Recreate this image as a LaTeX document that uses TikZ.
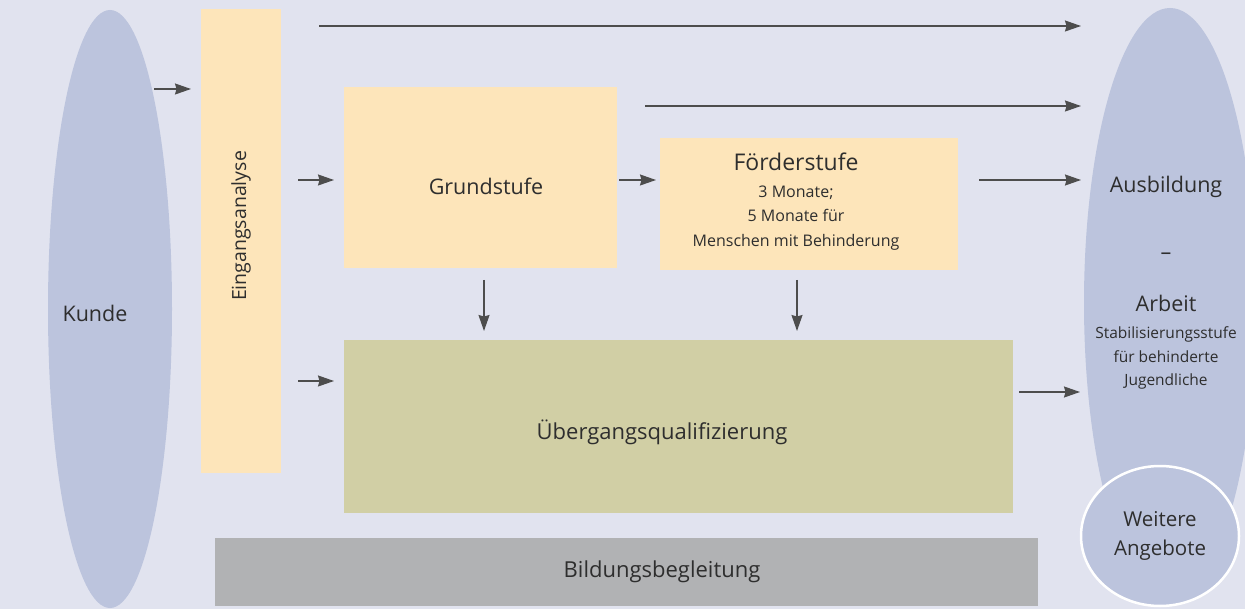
\documentclass[tikz,border=0pt]{standalone}
\usepackage{fontspec}
\setmainfont{Open Sans}
\usetikzlibrary{arrows.meta,calc,shapes.geometric}
\definecolor{bg}{HTML}{E1E3EF}
\definecolor{ell}{HTML}{BCC4DD}
\definecolor{yel}{HTML}{FDE5BA}
\definecolor{oli}{HTML}{D1CFA5}
\definecolor{gry}{HTML}{B1B2B4}
\definecolor{arrc}{HTML}{4D4D4D}
\definecolor{txt}{HTML}{2E2E2E}
\tikzset{
  oval/.style={ellipse, fill=ell, inner sep=0pt},
  box/.style={rectangle, inner sep=0pt, anchor=north west, text=txt},
  lbl/.style={text=txt, inner sep=0pt, align=center},
  arr/.style={draw=arrc, line width=1.3pt, -{Stealth[length=16pt,width=11pt,inset=1.5pt]}},
}
\begin{document}
\begin{tikzpicture}[x=1pt,y=-1pt]
\useasboundingbox (0,0) rectangle (1245,609);
\clip (0,0) rectangle (1245,609);
\fill[bg] (0,0) rectangle (1245,609);

% left ellipse
\node[oval, minimum width=124, minimum height=598] (kunde) at (110,309) {};
\node[lbl, font=\fontsize{21.5}{25}\selectfont] (kundet) at (95,313) {Kunde};

% right ellipse
\node[oval, minimum width=172, minimum height=590] (ziel) at (1170,303) {};
\node[lbl, font=\fontsize{21.5}{25}\selectfont] (ausb) at (1166,187) {Ausbildung};
\node[lbl, font=\fontsize{21.5}{25}\selectfont] (dash) at (1166,256) {–};
\node[lbl, font=\fontsize{21.5}{25}\selectfont] (arbeit) at (1166,303) {Arbeit};
\node[lbl, font=\fontsize{15.5}{23.5}\selectfont] (stab) at (1166,358) {Stabilisierungsstufe\\für behinderte\\Jugendliche};

% circle
\node[ellipse, fill=ell, draw=white, line width=2.5pt, minimum width=158, minimum height=140, inner sep=0pt,
      lbl, font=\fontsize{20.5}{29}\selectfont] (weitere) at (1160,536) {Weitere\\Angebote};

% Eingangsanalyse
\node[box, fill=yel, minimum width=80, minimum height=464] (eing) at (201,9) {};
\node[lbl, rotate=90, font=\fontsize{19.5}{23}\selectfont] (eingt) at (241,226) {Eingangsanalyse};

% Grundstufe
\node[box, fill=yel, minimum width=273, minimum height=181] (grund) at (344,87) {};
\node[lbl, font=\fontsize{21.5}{25}\selectfont] (grundt) at (486,186) {Grundstufe};

% Foerderstufe
\node[box, fill=yel, minimum width=298, minimum height=132] (foerd) at (660,138) {};
\node[lbl, font=\fontsize{23}{27}\selectfont] (foerdt) at (796,162) {Förderstufe};
\node[lbl, font=\fontsize{16}{24.5}\selectfont] (foerds) at (796,218) {3 Monate;\\5 Monate für\\Menschen mit Behinderung};

% Uebergangsqualifizierung
\node[box, fill=oli, minimum width=669, minimum height=173] (ueber) at (344,340) {};
\node[lbl, font=\fontsize{22}{26}\selectfont] (uebert) at (662,432) {Übergangsqualifizierung};

% Bildungsbegleitung
\node[box, fill=gry, minimum width=823, minimum height=68] (bild) at (215,538) {};
\node[lbl, font=\fontsize{22}{26}\selectfont] (bildt) at (662,572) {Bildungsbegleitung};

% connectors
\coordinate (k1) at (154,89);
\coordinate (e1) at (191,89);
\draw[arr] (k1) -- (e1);
\coordinate (t1) at (319,26);
\coordinate (t2) at (1081,26);
\draw[arr] (t1) -- (t2);
\coordinate (s1) at (645,106);
\coordinate (s2) at (1081,106);
\draw[arr] (s1) -- (s2);
\draw[arr] ($(eing.north east)+(17,171)$) -- ($(grund.north west)+(-10,93)$);
\draw[arr] ($(grund.north east)+(2,93)$) -- ($(foerd.north west)+(-4,42)$);
\draw[arr] ($(foerd.north east)+(21,42)$) -- (1081,180);
\draw[arr] (484,280) -- ($(ueber.north west)+(140,-9)$);
\draw[arr] (797,280) -- ($(ueber.north west)+(453,-9)$);
\draw[arr] ($(eing.north east)+(17,372)$) -- ($(ueber.north west)+(-10,41)$);
\draw[arr] ($(ueber.north east)+(6,52)$) -- (1080,392);
\end{tikzpicture}
\end{document}
